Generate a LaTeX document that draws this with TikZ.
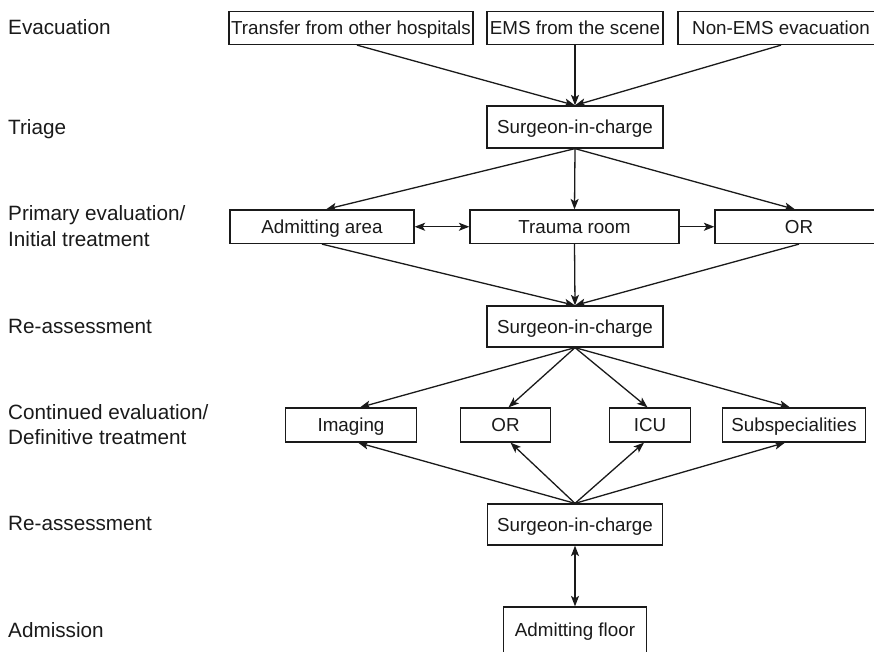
\documentclass[tikz,border=0pt]{standalone}
\usepackage{fontspec}
\setmainfont{Liberation Sans}
\usetikzlibrary{arrows.meta}
\definecolor{ink}{HTML}{1A1A1A}
\begin{document}
\begin{tikzpicture}[x=1pt,y=-1pt,
  box/.style={draw=ink, line width=1.25pt, inner sep=0pt, text=ink,
     text height=13.4pt, text depth=0pt,
     font=\fontsize{18.8}{22}\selectfont},
  lab/.style={anchor=base west, inner sep=0pt, text=ink, align=left,
     font=\fontsize{20.7}{25}\selectfont},
  arr/.style={draw=ink, line width=1.3pt, -{Stealth[length=10.5pt,width=8pt,inset=2.5pt]}},
  darr/.style={draw=ink, line width=1.3pt, {Stealth[length=10.5pt,width=8pt,inset=2.5pt]}-{Stealth[length=10.5pt,width=8pt,inset=2.5pt]}}]
\useasboundingbox (0,0) rectangle (874,652);
\fill[white] (0,0) rectangle (874,652);
% left labels
\node[lab] (l1) at (8,35) {Evacuation};
\node[lab] (l2) at (8,134.3) {Triage};
\node[lab] (l3) at (8,246) {Primary evaluation/\\Initial treatment};
\node[lab] (l4) at (8,333.3) {Re-assessment};
\node[lab] (l5) at (8,444.3) {Continued evaluation/\\Definitive treatment};
\node[lab] (l6) at (8,530.7) {Re-assessment};
\node[lab] (l7) at (8,637.7) {Admission};
% row 1
\node[box, minimum width=244, minimum height=33] (t1) at (351,28) {Transfer from other hospitals};
\node[box, minimum width=176, minimum height=33] (t2) at (575,28) {EMS from the scene};
\node[box, minimum width=206, minimum height=33] (t3) at (781,28) {Non-EMS evacuation};
\node[box, minimum width=176, minimum height=42] (s1) at (575,127) {Surgeon-in-charge};
% row 3
\node[box, minimum width=184, minimum height=33.5] (a1) at (322,226.75) {Admitting area};
\node[box, minimum width=209, minimum height=33.5] (a2) at (574.5,226.75) {Trauma room};
\node[box, minimum width=168, minimum height=33.5] (a3) at (799,226.75) {OR};
\node[box, minimum width=176, minimum height=41] (s2) at (575,326.5) {Surgeon-in-charge};
% row 5
\node[box, minimum width=131, minimum height=34] (c1) at (351,425) {Imaging};
\node[box, minimum width=89.5, minimum height=34] (c2) at (505.5,425) {OR};
\node[box, minimum width=81, minimum height=34] (c3) at (650,425) {ICU};
\node[box, minimum width=142.5, minimum height=34] (c4) at (794,425) {Subspecialities};
\node[box, minimum width=175, minimum height=41] (s3) at (575,524.5) {Surgeon-in-charge};
\node[box, minimum width=142.5, minimum height=46] (f) at (575,630) {Admitting floor};
% connectors
\draw[arr] ([xshift=6pt]t1.south) -- (s1.north);
\draw[arr] (t2.south) -- (s1.north);
\draw[arr] (t3.south) -- (s1.north);
\draw[arr] (s1.south) -- ([xshift=4pt]a1.north);
\draw[arr] (s1.south) -- (a2.north);
\draw[arr] (s1.south) -- ([xshift=-4pt]a3.north);
\draw[darr] (a1.east) -- (a2.west);
\draw[arr] (a2.east) -- (a3.west);
\draw[arr] (a1.south) -- (s2.north);
\draw[arr] (a2.south) -- (s2.north);
\draw[arr] (a3.south) -- (s2.north);
\draw[arr] (s2.south) -- ([xshift=9pt]c1.north);
\draw[arr] (s2.south) -- ([xshift=3pt]c2.north);
\draw[arr] (s2.south) -- ([xshift=-2.5pt]c3.north);
\draw[arr] (s2.south) -- ([xshift=-4pt]c4.north);
\draw[arr] (s3.north) -- ([xshift=7pt]c1.south);
\draw[arr] (s3.north) -- ([xshift=5pt]c2.south);
\draw[arr] (s3.north) -- ([xshift=-6pt]c3.south);
\draw[arr] (s3.north) -- ([xshift=-9pt]c4.south);
\draw[darr] (s3.south) -- (f.north);
\end{tikzpicture}
\end{document}
